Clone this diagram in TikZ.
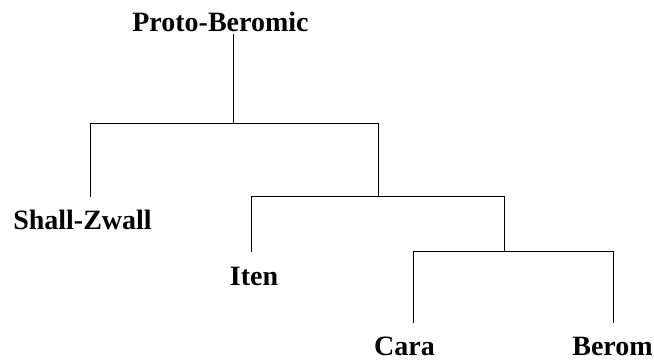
\documentclass[tikz,border=0pt]{standalone}
\usepackage{fontspec}
\setmainfont{Liberation Serif}

\begin{document}
\begin{tikzpicture}[x=1pt,y=1pt,yscale=-1,xscale=1,
  lang/.style={anchor=base,inner sep=0.75pt,font=\fontsize{28}{34}\selectfont\bfseries},
  branch/.style={line width=1pt}]
\useasboundingbox (0,0) rectangle (654,361);

% Text Nodes
\node[lang] (proto) at (220.5,32) {Proto-Beromic};
\node[lang] (shall) at (82.5,229) {Shall-Zwall};
\node[lang] (iten) at (254,285) {Iten};
\node[lang] (cara) at (404.5,355) {Cara};
\node[lang] (berom) at (612.5,355) {Berom};

% branch points and leg ends
\coordinate (root) at (233,34);
\coordinate (b1) at (378,124);
\coordinate (b2) at (378,196);
\coordinate (b3) at (504,196);
\coordinate (b4) at (504,251);
\coordinate (shallEnd) at (90,197);
\coordinate (itenEnd) at (251,252);
\coordinate (caraEnd) at (413,323);
\coordinate (beromEnd) at (613,323);

% Straight Lines
\draw[branch] (root) -- (root |- b1);
\draw[branch] (shallEnd) |- (b1) -- (b2);
\draw[branch] (itenEnd) |- (b3) -- (b4);
\draw[branch] (caraEnd) |- (b4 -| beromEnd) -- (beromEnd);

\end{tikzpicture}
\end{document}
